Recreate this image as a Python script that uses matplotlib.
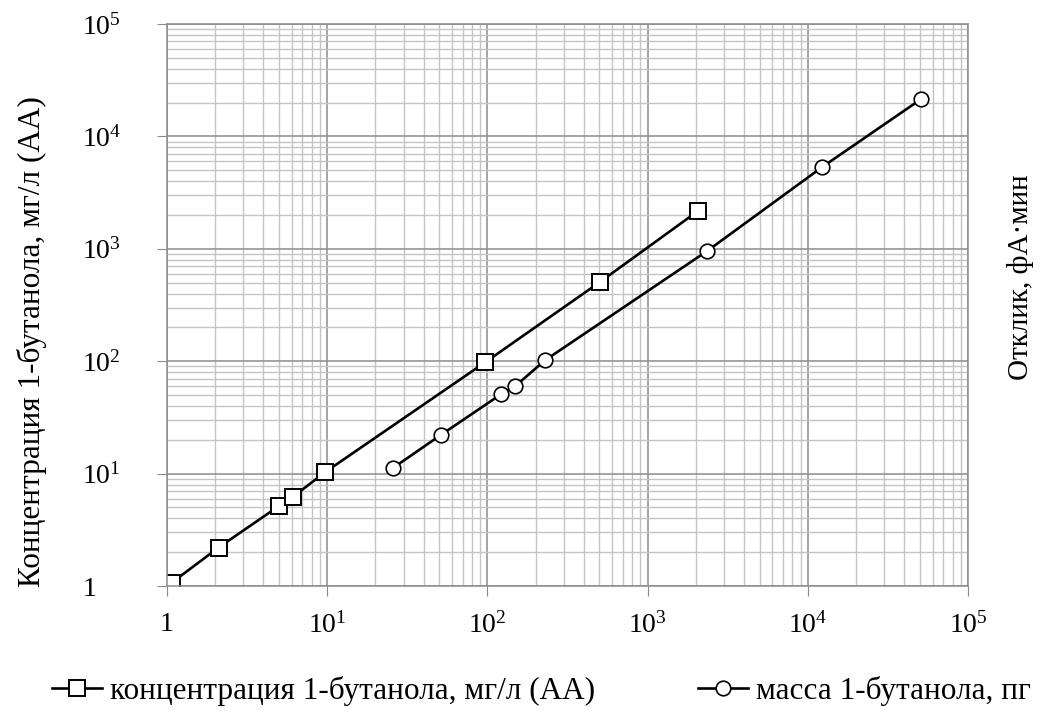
import math
import matplotlib.pyplot as plt
from matplotlib.ticker import LogLocator, FuncFormatter, NullFormatter

plt.rcParams['font.family'] = ['Liberation Serif', 'DejaVu Serif']
plt.rcParams['mathtext.fontset'] = 'custom'
plt.rcParams['mathtext.rm'] = 'Liberation Serif'
plt.rcParams['mathtext.it'] = 'Liberation Serif'

# концентрация 1-бутанола, мг/л (АА)
conc_x = [1.07, 2.1, 5.0, 6.1, 9.7, 97, 504, 2060]
conc_y = [1.07, 2.2, 5.15, 6.2, 10.3, 98, 507, 2170]

# масса 1-бутанола, пг
mass_x = [25.7, 51, 122, 149, 229, 2350, 12300, 50900]
mass_y = [11.2, 22, 51, 60, 102, 956, 5350, 21500]

label_conc = 'концентрация 1-бутанола, мг/л (АА)'
label_mass = 'масса 1-бутанола, пг'

fig = plt.figure(figsize=(10.41, 7.11), dpi=100)
ax = fig.add_axes([0.1604, 0.1758, 0.7696, 0.7904])

ax.plot(conc_x, conc_y, color='black', lw=1.9, marker='s', ms=11,
        mfc='white', mec='black', mew=1.4, label=label_conc)
ax.plot(mass_x, mass_y, color='black', lw=1.9, marker='o', ms=10.5,
        mfc='white', mec='black', mew=1.2, label=label_mass)

ax.set_xscale('log')
ax.set_yscale('log')
ax.set_xlim(1, 1e5)
ax.set_ylim(1, 1e5)


def fmt(v, pos):
    if abs(v - 1) < 1e-9:
        return '1'
    return r'$10^{%d}$' % int(round(math.log10(v)))


for a in (ax.xaxis, ax.yaxis):
    a.set_major_locator(LogLocator(base=10, numticks=10))
    a.set_minor_locator(LogLocator(base=10, subs=range(2, 10), numticks=100))
    a.set_major_formatter(FuncFormatter(fmt))
    a.set_minor_formatter(NullFormatter())

ax.grid(True, which='major', color='#8c8c8c', lw=1.1)
ax.grid(True, which='minor', color='#c4c4c4', lw=1.0)
ax.set_axisbelow(True)
for s in ax.spines.values():
    s.set_color('#8c8c8c')
    s.set_linewidth(1.1)

ax.tick_params(which='major', direction='out', length=7, color='#8c8c8c',
               labelsize=20)
ax.tick_params(axis='y', which='major', pad=54)
ax.tick_params(axis='x', which='major', pad=12)
ax.tick_params(which='minor', length=0)
for lab in ax.get_yticklabels():
    lab.set_horizontalalignment('left')

fig.text(0.031, 0.52, 'Концентрация 1-бутанола, мг/л (АА)', rotation=90,
         ha='center', va='center', fontsize=22.5)
fig.text(0.98, 0.61, 'Отклик, фА·мин', rotation=90,
         ha='center', va='center', fontsize=21)

fig.legend(loc='center', bbox_to_anchor=(0.52, 0.028), ncol=2, frameon=False,
           fontsize=22.5, columnspacing=3.3, handlelength=1.6, handletextpad=0.25,
           markerscale=1.0)

fig.savefig('out.png', dpi=100)
